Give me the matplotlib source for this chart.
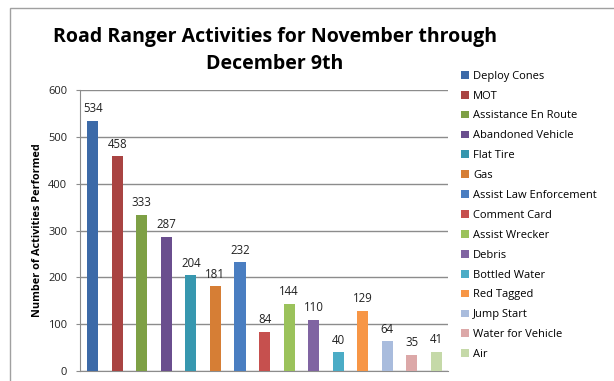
import matplotlib.pyplot as plt
from matplotlib.patches import Rectangle, Patch

# data
activities = ['Deploy Cones', 'MOT', 'Assistance En Route', 'Abandoned Vehicle',
              'Flat Tire', 'Gas', 'Assist Law Enforcement', 'Comment Card',
              'Assist Wrecker', 'Debris', 'Bottled Water', 'Red Tagged',
              'Jump Start', 'Water for Vehicle', 'Air']
counts = [534, 458, 333, 287, 204, 181, 232, 84, 144, 110, 40, 129, 64, 35, 41]
colors = ['#3C6AA8', '#A94442', '#7EA045', '#6A4E8E', '#3797AF', '#D67E35',
          '#4A7EC1', '#C6504E', '#9BC25B', '#8064A2', '#4BACC6', '#F79646',
          '#A9BCDD', '#DCA8A8', '#C5D9A8']
yticks = [0, 100, 200, 300, 400, 500, 600]

plt.rcParams['font.family'] = ['Open Sans', 'DejaVu Sans']

fig = plt.figure(figsize=(6.14, 3.81), dpi=100)

# outer chart frame
fig.patches.append(Rectangle((10 / 614, -0.01), 1.0, 0.99, transform=fig.transFigure,
                             fill=False, edgecolor='#A0A0A0', linewidth=1.0))

ax = fig.add_axes([0.130, 0.026, 0.600, 0.738])
x = list(range(len(counts)))
ax.bar(x, counts, width=0.45, color=colors, zorder=3)

# value labels above the bars
for i, v in enumerate(counts):
    ax.annotate(str(v), (i, v), xytext=(0, 4), textcoords='offset points',
                ha='center', va='bottom', fontsize=8.3, color='#222222')

ax.set_xlim(-0.53, 14.49)
ax.set_ylim(0, 600)
ax.set_yticks(yticks)
ax.set_yticklabels([str(t) for t in yticks], fontsize=8, color='#222222')
ax.set_xticks([])
ax.grid(axis='y', color='#8C8C8C', linewidth=1.0, zorder=1)
ax.tick_params(axis='y', length=3, color='#8C8C8C', pad=6)
for s in ['top', 'right']:
    ax.spines[s].set_visible(False)
for s in ['left', 'bottom']:
    ax.spines[s].set_color('#8C8C8C')
ax.set_ylabel('Number of Activities Performed', fontsize=7.8, fontweight='bold',
              labelpad=4)

fig.text(0.448, 0.868, 'Road Ranger Activities for November through\nDecember 9th',
         ha='center', va='center', fontsize=14, fontweight='bold', linespacing=1.45)

handles = [Patch(facecolor=c, edgecolor='none') for c in colors]
fig.legend(handles, activities, loc='upper left', bbox_to_anchor=(0.742, 0.829),
           frameon=False, fontsize=8, handlelength=0.7, handleheight=0.7,
           handletextpad=0.4, labelspacing=0.8, borderpad=0)

fig.savefig('out.png', dpi=100)
